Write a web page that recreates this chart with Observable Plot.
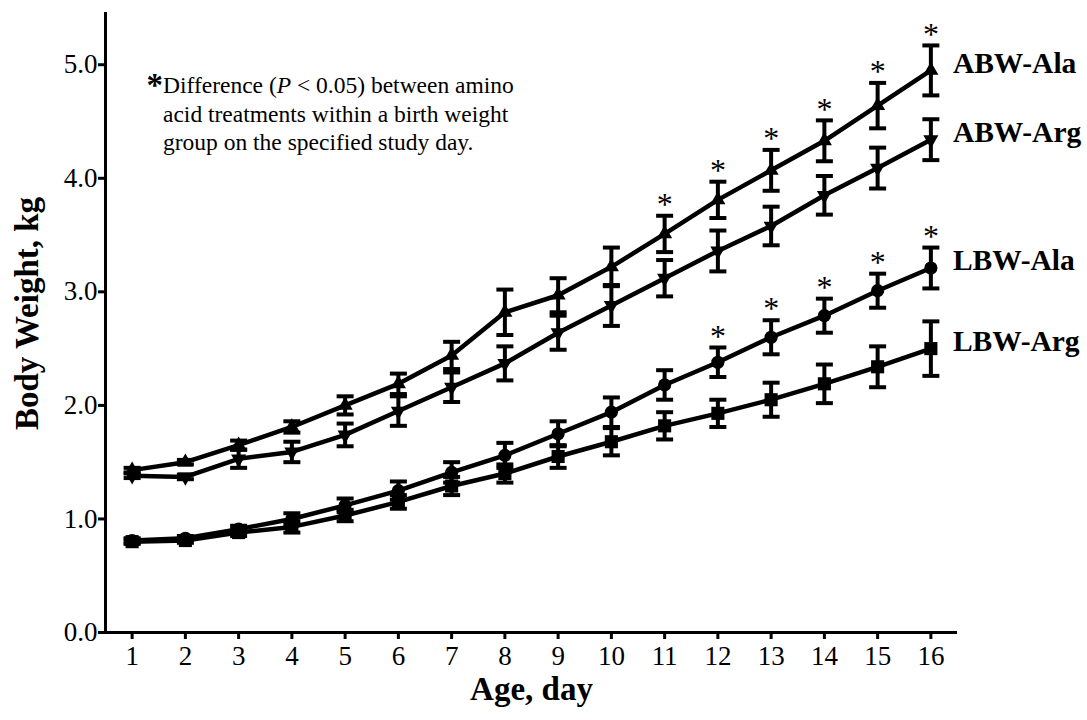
<!DOCTYPE html>
<html>
<head>
<meta charset="utf-8">
<script src="https://cdn.jsdelivr.net/npm/d3@7"></script>
<script src="https://cdn.jsdelivr.net/npm/@observablehq/plot@0.6"></script>
<style>
  html, body { margin: 0; padding: 0; background: white; }
  #chart { width: 1087px; height: 720px; }
</style>
</head>
<body>
<div id="chart"></div>
<script>
// ---- data ----
const days = [1, 2, 3, 4, 5, 6, 7, 8, 9, 10, 11, 12, 13, 14, 15, 16];
const seriesNames = ["ABW-Ala", "ABW-Arg", "LBW-Ala", "LBW-Arg"];
const abwAla   = [1.43, 1.50, 1.65, 1.81, 2.00, 2.19, 2.44, 2.82, 2.97, 3.22, 3.51, 3.81, 4.07, 4.33, 4.64, 4.95];
const abwAlaSE = [0.02, 0.02, 0.04, 0.05, 0.08, 0.09, 0.12, 0.20, 0.15, 0.17, 0.16, 0.16, 0.18, 0.18, 0.20, 0.22];
const abwArg   = [1.38, 1.37, 1.53, 1.59, 1.74, 1.95, 2.16, 2.37, 2.64, 2.88, 3.12, 3.36, 3.58, 3.85, 4.09, 4.34];
const abwArgSE = [0.02, 0.02, 0.08, 0.09, 0.10, 0.13, 0.13, 0.15, 0.15, 0.18, 0.16, 0.18, 0.17, 0.17, 0.18, 0.18];
const lbwAla   = [0.81, 0.83, 0.91, 1.00, 1.12, 1.25, 1.41, 1.56, 1.75, 1.94, 2.18, 2.38, 2.60, 2.79, 3.01, 3.21];
const lbwAlaSE = [0.02, 0.02, 0.03, 0.05, 0.06, 0.08, 0.09, 0.11, 0.11, 0.13, 0.13, 0.13, 0.15, 0.15, 0.15, 0.18];
const lbwArg   = [0.80, 0.81, 0.88, 0.93, 1.03, 1.15, 1.29, 1.40, 1.55, 1.68, 1.82, 1.93, 2.05, 2.19, 2.34, 2.50];
const lbwArgSE = [0.02, 0.02, 0.03, 0.05, 0.05, 0.06, 0.08, 0.08, 0.10, 0.12, 0.12, 0.12, 0.15, 0.17, 0.18, 0.24];
const abwSigDays = [11, 12, 13, 14, 15, 16];
const lbwSigDays = [12, 13, 14, 15, 16];
const yTicks = [0, 1, 2, 3, 4, 5];
const xTicks = days;
const noteLines = [
  "Difference (P < 0.05) between amino",
  "acid treatments within a birth weight",
  "group on the specified study day."
];

// ---- tidy table ----
const valuesBy = { "ABW-Ala": abwAla, "ABW-Arg": abwArg, "LBW-Ala": lbwAla, "LBW-Arg": lbwArg };
const seBy = { "ABW-Ala": abwAlaSE, "ABW-Arg": abwArgSE, "LBW-Ala": lbwAlaSE, "LBW-Arg": lbwArgSE };
const rows = seriesNames.flatMap(s => days.map((d, i) => ({
  series: s, day: d, w: valuesBy[s][i], lo: valuesBy[s][i] - seBy[s][i], hi: valuesBy[s][i] + seBy[s][i]
})));
const stars = [
  ...abwSigDays.map(d => rows.find(r => r.series === "ABW-Ala" && r.day === d)),
  ...lbwSigDays.map(d => rows.find(r => r.series === "LBW-Ala" && r.day === d))
];
const lastRows = seriesNames.map(s => rows.find(r => r.series === s && r.day === days[days.length - 1]));
const bySeries = s => rows.filter(r => r.series === s);

const markerStyle = {
  "ABW-Ala": { symbol: "triangle", r: 5.6, rotate: 0 },
  "ABW-Arg": { symbol: "triangle", r: 5.6, rotate: 180 },
  "LBW-Ala": { symbol: "circle", r: 6.6, rotate: 0 },
  "LBW-Arg": { symbol: "square", r: 7.4, rotate: 0 }
};

const capSymbol = {
  draw(context, size) {
    const r = Math.sqrt(size / Math.PI);
    context.moveTo(-r, 0);
    context.lineTo(r, 0);
  }
};

const serif = "'Liberation Serif', 'Times New Roman', Times, serif";

const plot = Plot.plot({
  width: 1087,
  height: 720,
  marginLeft: 105,
  marginRight: 130,
  marginTop: 12,
  marginBottom: 88,
  style: { fontFamily: serif, background: "white", color: "black", overflow: "visible" },
  x: { domain: [0.5, 16.5], label: null },
  y: { domain: [0, 5.46], label: null },
  marks: [
    Plot.axisY({ ticks: yTicks, tickFormat: d3.format(".1f"), tickSize: 7, tickPadding: 1, fontSize: 27, strokeWidth: 3, label: null }),
    Plot.axisX({ ticks: xTicks, tickFormat: d => String(d), tickSize: 7, tickPadding: 6, fontSize: 27, strokeWidth: 3, label: null }),
    Plot.ruleX([0.5], { stroke: "black", strokeWidth: 3 }),
    Plot.ruleY([0], { stroke: "black", strokeWidth: 3 }),
    Plot.line(rows, { x: "day", y: "w", z: "series", stroke: "black", strokeWidth: 4.5 }),
    Plot.ruleX(rows, { x: "day", y1: "lo", y2: "hi", stroke: "black", strokeWidth: 4 }),
    Plot.dot(rows, { x: "day", y: "hi", symbol: capSymbol, r: 8.5, fill: "none", stroke: "black", strokeWidth: 4 }),
    Plot.dot(rows, { x: "day", y: "lo", symbol: capSymbol, r: 8.5, fill: "none", stroke: "black", strokeWidth: 4 }),
    ...seriesNames.map(s => Plot.dot(bySeries(s), {
      x: "day", y: "w", symbol: markerStyle[s].symbol, r: markerStyle[s].r,
      rotate: markerStyle[s].rotate, fill: "black", stroke: "none"
    })),
    Plot.text(stars, { x: "day", y: "hi", text: () => "*", fontSize: 32, dy: -11, fill: "black" }),
    Plot.text(lastRows, { x: "day", y: "w", text: "series", textAnchor: "start", dx: 22, dy: -7, fontSize: 29.5, fontWeight: "bold", fill: "black" }),
    Plot.text(["Body Weight, kg"], { frameAnchor: "left", textAnchor: "middle", rotate: -90, dx: -78, dy: -9, fontSize: 33, fontWeight: "bold", fill: "black" }),
    Plot.text(["Age, day"], { frameAnchor: "bottom", textAnchor: "middle", dy: 67, fontSize: 33, fontWeight: "bold", fill: "black" })
  ]
});

// ---- note annotation (rich text with italic P) ----
const svg = d3.select(plot);
const note = svg.append("g").style("font-family", serif).attr("fill", "black").attr("text-anchor", "start");
note.append("text").attr("x", 163).attr("y", 96).attr("text-anchor", "end")
  .style("font-family", serif).attr("font-size", 33).attr("font-weight", "bold").text("*");
const l1 = note.append("text").attr("x", 163).attr("y", 93).attr("font-size", 23.5)
  .style("font-family", serif).attr("text-anchor", "start");
l1.append("tspan").text("Difference (");
l1.append("tspan").attr("font-style", "italic").text("P");
l1.append("tspan").text(" < 0.05) between amino");
note.append("text").attr("x", 163).attr("y", 122).attr("font-size", 23.5).style("font-family", serif)
  .attr("text-anchor", "start").text(noteLines[1]);
note.append("text").attr("x", 163).attr("y", 150).attr("font-size", 23.5).style("font-family", serif)
  .attr("text-anchor", "start").text(noteLines[2]);

document.getElementById("chart").appendChild(plot);
</script>
</body>
</html>
